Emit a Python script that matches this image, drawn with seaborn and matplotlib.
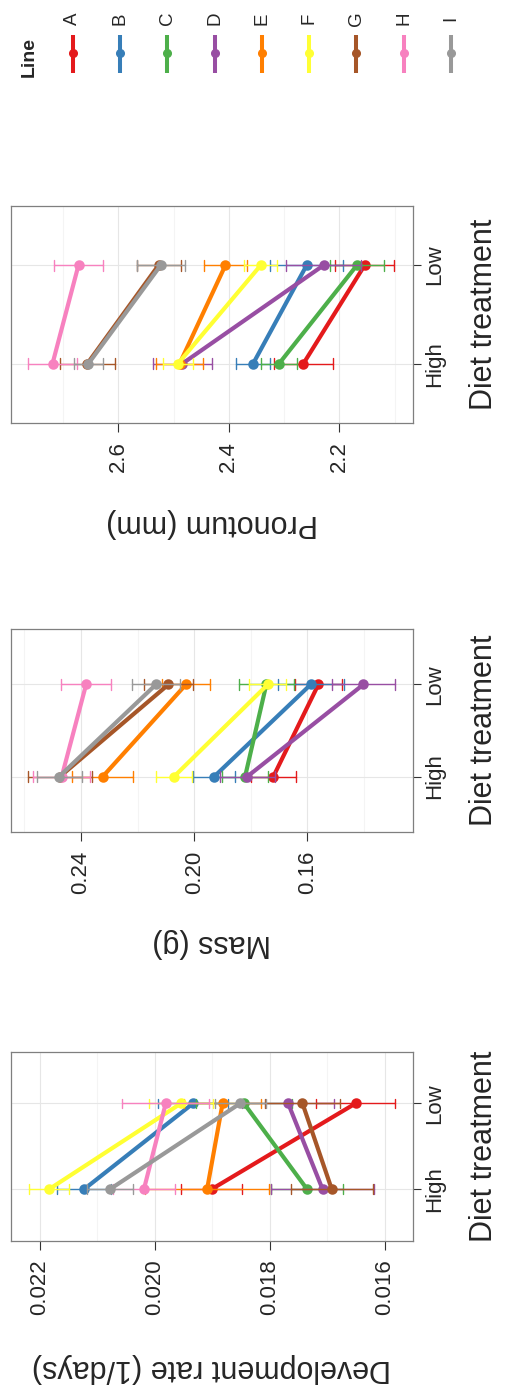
import numpy as np
import pandas as pd
import matplotlib
matplotlib.use("Agg")
import matplotlib.pyplot as plt
import seaborn as sns

# ---- data -------------------------------------------------------------
lines = ["A", "B", "C", "D", "E", "F", "G", "H", "I"]
diets = ["Low", "High"]

dev_high = [0.01901, 0.02123, 0.01735, 0.01708, 0.01909, 0.02184, 0.01692, 0.02019, 0.02078]
dev_high_se = [0.00053, 0.00047, 0.00063, 0.00089, 0.00108, 0.00035, 0.00071, 0.00054, 0.00040]
dev_low = [0.01650, 0.01933, 0.01845, 0.01768, 0.01882, 0.01954, 0.01743, 0.01981, 0.01851]
dev_low_se = [0.00069, 0.00061, 0.00083, 0.00080, 0.00067, 0.00056, 0.00066, 0.00076, 0.00044]

mass_high = [0.1720, 0.1929, 0.1820, 0.1812, 0.2323, 0.2071, 0.2474, 0.2468, 0.2477]
mass_high_se = [0.0080, 0.0074, 0.0082, 0.0097, 0.0108, 0.0064, 0.0112, 0.0100, 0.0080]
mass_low = [0.1561, 0.1588, 0.1745, 0.1402, 0.2029, 0.1740, 0.2091, 0.2382, 0.2135]
mass_low_se = [0.0083, 0.0117, 0.0098, 0.0112, 0.0085, 0.0066, 0.0086, 0.0088, 0.0085]

pron_high = [2.265, 2.356, 2.309, 2.484, 2.489, 2.492, 2.656, 2.719, 2.654]
pron_high_se = [0.054, 0.031, 0.032, 0.054, 0.042, 0.027, 0.050, 0.045, 0.027]
pron_low = [2.154, 2.259, 2.168, 2.228, 2.406, 2.342, 2.527, 2.672, 2.523]
pron_low_se = [0.053, 0.066, 0.049, 0.068, 0.039, 0.030, 0.040, 0.045, 0.044]

dev_ticks = [0.016, 0.018, 0.020, 0.022]
mass_ticks = [0.16, 0.20, 0.24]
pron_ticks = [2.2, 2.4, 2.6]

# ---- style ------------------------------------------------------------
sns.set_style("white")
plt.rcParams["font.family"] = ["Liberation Sans", "DejaVu Sans"]
palette = sns.color_palette("Set1", 9)

W, H = 507, 1395
fig = plt.figure(figsize=(W / 100, H / 100), dpi=100)


def long_frame(high, high_se, low, low_se):
    """Each group holds mean-se and mean+se: mean is the midpoint, range the error bar."""
    rows = []
    for ln, m, s in zip(lines, high, high_se):
        rows += [(ln, "High", m - s), (ln, "High", m + s)]
    for ln, m, s in zip(lines, low, low_se):
        rows += [(ln, "Low", m - s), (ln, "Low", m + s)]
    return pd.DataFrame(rows, columns=["Line", "Diet", "value"])


def panel(top_px, bottom_px, df, xlim, ticks, minor, fmt, ylabel, ylabel_px):
    left_px, right_px = 10.7, 412.7
    ax = fig.add_axes([left_px / W, 1 - bottom_px / H,
                       (right_px - left_px) / W, (bottom_px - top_px) / H])
    sns.pointplot(data=df, x="value", y="Diet", hue="Line", order=diets,
                  hue_order=lines, palette=palette, errorbar=("pi", 100),
                  capsize=0.11, err_kws={"linewidth": 1.0}, markers="o",
                  markersize=5.3, linewidth=3.0, legend=False, ax=ax,
                  orient="h", zorder=3)
    ax.set_xlim(*xlim)
    ax.set_ylim(1.6, -0.6)
    ax.set_xticks(ticks, [fmt.format(t) for t in ticks])
    ax.set_xticks(minor, minor=True)
    ax.set_yticks([0, 1], diets)
    ax.yaxis.tick_right()
    for lbl in ax.get_yticklabels():
        lbl.set_rotation(90)
        lbl.set_va("center")
    ax.tick_params(axis="x", which="major", length=6.5, width=0.8, color="#333333",
                   pad=7, labelsize=16, labelrotation=90, bottom=True)
    ax.tick_params(axis="x", which="minor", length=0)
    ax.tick_params(axis="y", length=6, width=0.8, color="#333333", pad=2.5,
                   labelsize=16, right=True, left=False)
    ax.set_axisbelow(True)
    ax.grid(True, which="major", color="#E6E6E6", linewidth=0.8)
    ax.grid(True, which="minor", axis="x", color="#F4F4F4", linewidth=0.8)
    for sp in ax.spines.values():
        sp.set_color("#7F7F7F")
        sp.set_linewidth(0.9)
    ax.set_xlabel("")
    ax.set_ylabel("")
    cx = (left_px + right_px) / 2 / W
    fig.text(cx, 1 - ylabel_px / H, ylabel, rotation=180, ha="center",
             va="center", fontsize=22)
    fig.text(484 / W, 1 - (top_px + bottom_px) / 2 / H, "Diet treatment",
             rotation=90, ha="center", va="center", fontsize=22)
    return ax


panel(1051.7, 1240.7, long_frame(dev_high, dev_high_se, dev_low, dev_low_se),
      (0.02251, 0.01551), dev_ticks, [0.017, 0.019, 0.021], "{:.3f}",
      "Development rate (1/days)", 1368)
panel(629.3, 831.7, long_frame(mass_high, mass_high_se, mass_low, mass_low_se),
      (0.26485, 0.12276), mass_ticks, [0.14, 0.18, 0.22, 0.26], "{:.2f}",
      "Mass (g)", 943)
panel(206.0, 422.7, long_frame(pron_high, pron_high_se, pron_low, pron_low_se),
      (2.7947, 2.0672), pron_ticks, [2.1, 2.3, 2.5, 2.7], "{:.1f}",
      "Pronotum (mm)", 523)

# ---- legend strip -----------------------------------------------------
leg = fig.add_axes([0, 1 - 95 / H, 1, 95 / H])
leg.set_xlim(0, W)
leg.set_ylim(95, 0)
leg.axis("off")
leg.text(29, 57, "Line", rotation=90, ha="center", va="center",
         fontsize=14, fontweight="bold")
for i, (name, col) in enumerate(zip(lines, palette)):
    kx = 72.7 + 47.3 * i
    leg.plot([kx, kx], [35, 72.7], color=col, lw=2.9, solid_capstyle="butt")
    leg.plot(kx, 53.3, "o", color=col, ms=5.5)
    leg.text(kx, 18.3, name, rotation=90, ha="center", va="center", fontsize=13.5)

fig.savefig("out.png", dpi=100)
